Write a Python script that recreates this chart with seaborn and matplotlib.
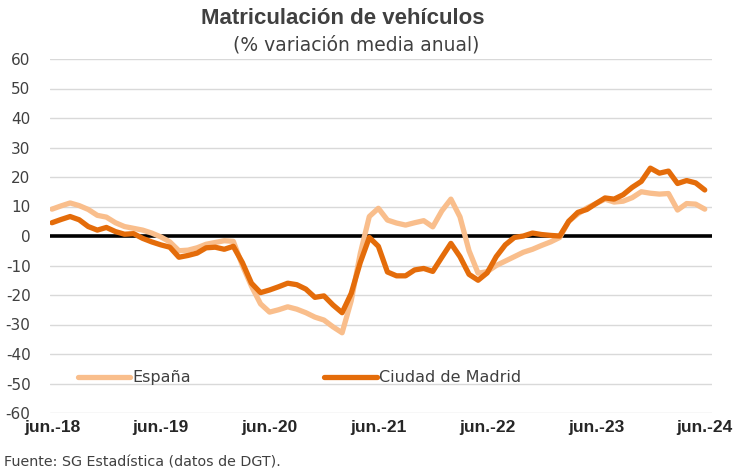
import numpy as np
import pandas as pd
import matplotlib
matplotlib.use("Agg")
import matplotlib.pyplot as plt
from matplotlib.lines import Line2D
import seaborn as sns

# Monthly series, jun-2018 .. jun-2024 (% variación media anual)
espana = [9.1, 10.2, 11.2, 10.3, 9.0, 7.0, 6.4, 4.5, 3.2, 2.6,
          2.0, 1.0, -0.3, -2.0, -5.0, -4.8, -4.0, -2.8, -2.2, -1.6,
          -1.8, -10.0, -17.0, -23.0, -25.8, -25.0, -24.0, -24.8, -26.0, -27.5,
          -28.5, -30.8, -32.8, -22.0, -6.0, 6.6, 9.4, 5.4, 4.4, 3.7,
          4.5, 5.2, 3.1, 8.5, 12.5, 6.5, -5.0, -12.6, -12.1, -10.0,
          -8.5, -7.0, -5.5, -4.5, -3.2, -2.0, -0.5, 5.0, 7.5, 9.5,
          11.0, 12.5, 11.5, 11.8, 13.0, 15.0, 14.5, 14.2, 14.4, 8.8,
          11.0, 10.8, 9.1]
madrid = [4.5, 5.6, 6.6, 5.5, 3.2, 2.0, 2.9, 1.5, 0.6, 0.8,
          -0.8, -2.0, -3.0, -3.8, -7.2, -6.6, -5.8, -4.0, -3.8, -4.5,
          -3.5, -9.0, -16.0, -19.2, -18.3, -17.2, -16.0, -16.5, -18.0, -20.8,
          -20.3, -23.4, -26.0, -19.5, -9.0, -0.5, -3.5, -12.2, -13.5, -13.5,
          -11.5, -11.0, -12.0, -7.2, -2.5, -7.0, -13.0, -15.0, -12.5, -7.0,
          -3.0, -0.5, 0.0, 1.0, 0.5, 0.2, 0.0, 5.0, 8.0, 9.0,
          11.0, 12.9, 12.5, 14.0, 16.5, 18.5, 23.0, 21.3, 22.0, 17.8,
          18.8, 18.0, 15.6]
tick_labels = ["jun.-18", "jun.-19", "jun.-20", "jun.-21", "jun.-22", "jun.-23", "jun.-24"]
series_names = ["España", "Ciudad de Madrid"]
colors = ["#F9BE8C", "#E46C0A"]

month = np.arange(len(espana))
df = pd.DataFrame({
    "mes": np.concatenate([month, month]),
    "valor": espana + madrid,
    "serie": [series_names[0]] * len(espana) + [series_names[1]] * len(madrid),
})

sns.set_style("white")
plt.rcParams["font.family"] = ["DejaVu Sans"]
plt.rcParams["axes.unicode_minus"] = False

fig = plt.figure(figsize=(7.44, 4.72), dpi=100)
ax = fig.add_axes([50 / 744, 1 - 413 / 472, 662 / 744, 354 / 472])

for y in range(-60, 61, 10):
    if y != 0:
        ax.axhline(y, color="#D9D9D9", lw=1.0, zorder=0)
ax.axhline(0, color="black", lw=2.6, zorder=1)

sns.lineplot(data=df, x="mes", y="valor", hue="serie", hue_order=series_names,
             palette=colors, linewidth=3.8, ax=ax, legend=False, zorder=3)
for ln in ax.lines[-2:]:
    ln.set_solid_joinstyle("round")
    ln.set_solid_capstyle("round")
ax.lines[-1].set_zorder(4)

ax.set_xlim(-0.22, 72.8)
ax.set_ylim(-60, 60)
ax.set_yticks(range(-60, 61, 10))
ax.set_xticks(np.arange(0, 73, 12))
ax.set_xticklabels(tick_labels, fontsize=12.5, fontweight="bold", color="#262626",
                   family="Liberation Sans")
ax.tick_params(axis="y", labelsize=11, labelcolor="#404040", length=0, pad=14)
ax.tick_params(axis="x", length=0, pad=5)
ax.set_xlabel("")
ax.set_ylabel("")
for s in ax.spines.values():
    s.set_visible(False)

handles = [Line2D([], [], color=c, lw=3.8, solid_capstyle="round") for c in colors]
ax.legend(handles, series_names, loc="center left", bbox_to_anchor=(0.02, 0.10),
          ncol=2, frameon=False, fontsize=11.5, handlelength=3.3, handletextpad=0.15,
          columnspacing=8.3, labelcolor="#404040")

fig.text(343 / 744, 1 - 18 / 472, "Matriculación de vehículos", ha="center", va="center",
         fontsize=16, fontweight="bold", color="#404040", family="Liberation Sans")
fig.text(356 / 744, 1 - 45 / 472, "(% variación media anual)", ha="center", va="center",
         fontsize=13.5, color="#404040")
fig.text(4 / 744, 1 - 462 / 472, "Fuente: SG Estadística (datos de DGT).", ha="left", va="center",
         fontsize=10.3, color="#404040")

fig.savefig("out.png", dpi=100)
